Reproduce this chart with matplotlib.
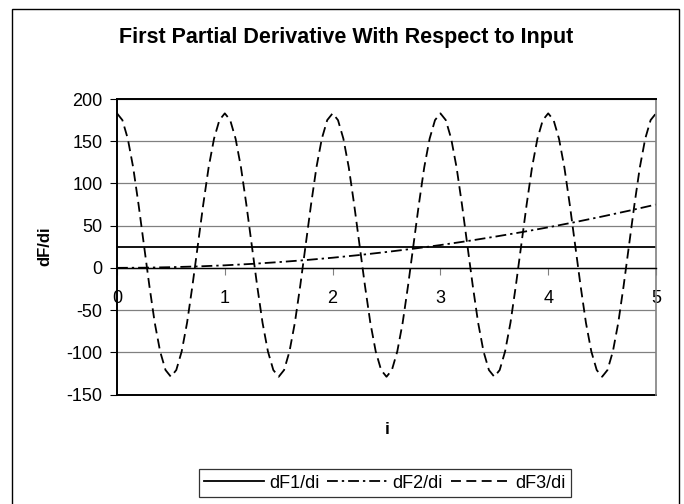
import matplotlib
matplotlib.use('Agg')
import matplotlib.pyplot as plt
from matplotlib.patches import Rectangle
import numpy as np

plt.rcParams['font.family'] = ['Liberation Sans', 'DejaVu Sans']
plt.rcParams['axes.unicode_minus'] = False

# dF1/di : constant
i_f1 = [0, 5]
df1 = [25, 25]

# dF2/di : slowly rising curve, read every 0.25
i_f2 = [0, 0.25, 0.5, 0.75, 1, 1.25, 1.5, 1.75, 2, 2.25, 2.5,
        2.75, 3, 3.25, 3.5, 3.75, 4, 4.25, 4.5, 4.75, 5]
df2 = [0, 0.2, 0.8, 1.7, 3, 4.7, 6.8, 9.2, 12, 15.2, 18.8,
       22.7, 27, 31.7, 36.8, 42.2, 48, 54.2, 60.8, 67.7, 75]

# dF3/di : oscillation, read every 0.05
i_f3 = [round(0.05 * k, 2) for k in range(101)]
df3 = [183, 175, 153, 119, 75, 27, -21, -65, -99, -121,
       -129, -121, -99, -65, -21, 27, 75, 119, 153, 175,
       183, 175, 153, 119, 75, 27, -21, -65, -99, -121,
       -129, -121, -99, -65, -21, 27, 75, 119, 153, 175,
       183, 175, 153, 119, 75, 27, -21, -65, -99, -121,
       -129, -121, -99, -65, -21, 27, 75, 119, 153, 175,
       183, 175, 153, 119, 75, 27, -21, -65, -99, -121,
       -129, -121, -99, -65, -21, 27, 75, 119, 153, 175,
       183, 175, 153, 119, 75, 27, -21, -65, -99, -121,
       -129, -121, -99, -65, -21, 27, 75, 119, 153, 175,
       183]

yticks = [-150, -100, -50, 0, 50, 100, 150, 200]
xticks = [0, 1, 2, 3, 4, 5]

fig = plt.figure(figsize=(6.84, 5.04), dpi=100)
ax = fig.add_axes([117 / 684, 1 - 394.5 / 504, 539 / 684, 295.5 / 504])

# outer chart border
fig.patches.append(Rectangle((12 / 684, -0.01), 667 / 684, 1 - 9 / 504 + 0.01,
                             transform=fig.transFigure, fill=False,
                             edgecolor='black', linewidth=1.0))

ax.set_xlim(0, 5)
ax.set_ylim(-150, 200)
ax.set_yticks(yticks)
ax.set_xticks(xticks)
ax.yaxis.grid(True, color='#808080', linewidth=0.9)
ax.set_axisbelow(True)

ax.plot(i_f1, df1, color='black', linewidth=1.3, label='dF1/di')
ax.plot(i_f2, df2, color='black', linewidth=1.3, dashes=(6, 2.2, 1.3, 2.2),
        label='dF2/di')
ax.plot(i_f3, df3, color='black', linewidth=1.3, dashes=(5.5, 3),
        label='dF3/di')

ax.spines['bottom'].set_position(('data', 0))
ax.spines['bottom'].set_linewidth(1.0)
ax.spines['left'].set_linewidth(1.4)
ax.spines['top'].set_linewidth(1.4)
ax.spines['right'].set_color('#808080')
ax.spines['right'].set_linewidth(1.2)
ax.axhline(-150, color='black', linewidth=1.4, clip_on=False)

ax.tick_params(axis='x', direction='out', length=5, pad=11, labelsize=13,
               color='#808080')
ax.tick_params(axis='y', direction='out', length=5, pad=5.5, labelsize=13)

ax.set_ylabel('dF/di', fontsize=12, fontweight='bold', labelpad=10)
fig.text(387 / 684, 1 - 430 / 504, 'i', fontsize=12.5, fontweight='bold',
         ha='center', va='center')
fig.text(346 / 684, 1 - 37 / 504, 'First Partial Derivative With Respect to Input',
         fontsize=15.5, fontweight='bold', ha='center', va='center')

leg = fig.legend(loc='center', bbox_to_anchor=(385 / 684, 1 - 483 / 504),
                 ncol=3, fontsize=13, frameon=True, fancybox=False,
                 edgecolor='black', handlelength=3.3, handletextpad=0.28,
                 columnspacing=0.45, borderpad=0.3)
leg.get_frame().set_linewidth(0.9)

fig.savefig('out.png', dpi=100, facecolor='white')
